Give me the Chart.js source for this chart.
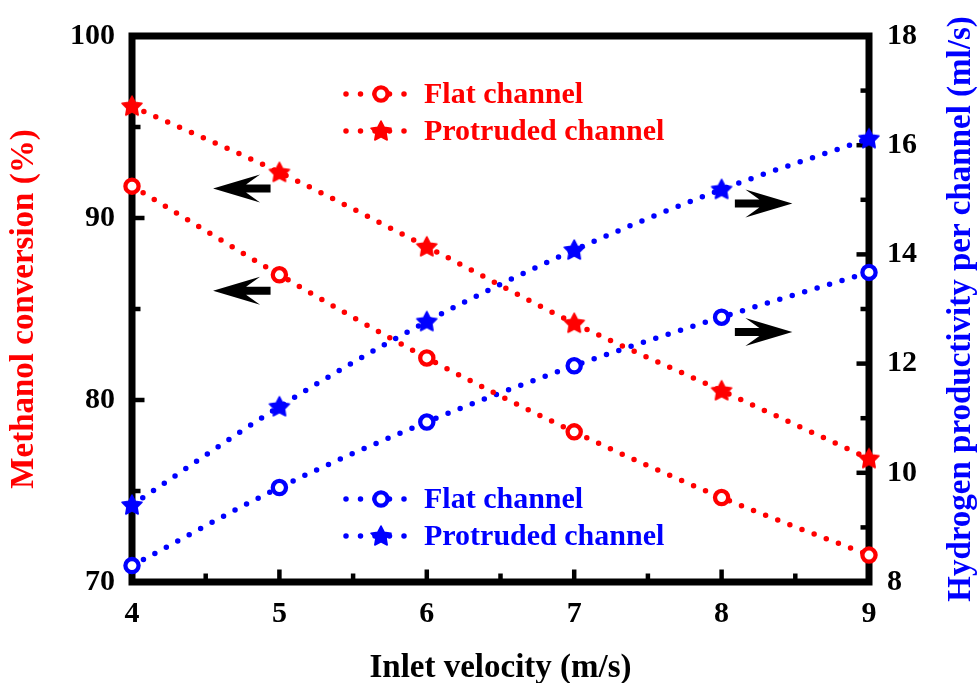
<!DOCTYPE html>
<html><head><meta charset="utf-8">
<script src="https://cdn.jsdelivr.net/npm/chart.js@4/dist/chart.umd.min.js"></script>
<style>html,body{margin:0;padding:0;background:#fff}#wrap{width:978px;height:683px;position:relative}</style>
</head><body><div id="wrap"><canvas id="c" width="978" height="683"></canvas></div>
<script>
// ---- data ----
const velocities = [4, 5, 6, 7, 8, 9];
const convFlat = [91.75, 86.88, 82.31, 78.25, 74.64, 71.48];
const convProtruded = [96.15, 92.51, 88.42, 84.22, 80.51, 76.78];
const h2Flat = [8.30, 9.73, 10.93, 11.96, 12.85, 13.67];
const h2Protruded = [9.41, 11.21, 12.77, 14.08, 15.19, 16.12];
const xTickValues = [4, 5, 6, 7, 8, 9];
const leftTickValues = [70, 80, 90, 100];
const rightTickValues = [8, 10, 12, 14, 16, 18];
const seriesNames = ['Flat channel', 'Protruded channel'];
const xTitle = 'Inlet velocity (m/s)';
const leftTitle = 'Methanol conversion (%)';
const rightTitle = 'Hydrogen productivity per channel (ml/s)';
// arrow annotations (data units, per axis)
const arrowAxis = ['y', 'y', 'y1', 'y1'];
const arrowFrom = [4.94, 4.94, 8.09, 8.09];
const arrowTo = [4.55, 4.55, 8.48, 8.48];
const arrowAt = [91.62, 86.00, 14.93, 12.58];

// ---- styling ----
const FONT = "'Liberation Serif','Times New Roman',serif";
const RED = '#ff0000', BLUE = '#0000ff';
const CIRCLE_R = 6.6, CIRCLE_W = 4.3;

function starCanvas(color) {
  const s = 26, c = document.createElement('canvas');
  c.width = s; c.height = s;
  const g = c.getContext('2d');
  g.fillStyle = color; g.strokeStyle = color; g.lineWidth = 1.6; g.lineJoin = 'round';
  g.beginPath();
  const R = 10.5, r = 5.3;
  for (let i = 0; i < 10; i++) {
    const a = -Math.PI / 2 + i * Math.PI / 5, rad = i % 2 ? r : R;
    g.lineTo(s / 2 + rad * Math.cos(a), s / 2 + 0.5 + rad * Math.sin(a));
  }
  g.closePath(); g.fill(); g.stroke();
  return c;
}
const starRed = starCanvas(RED), starBlue = starCanvas(BLUE);

function makeSet(label, vals, color, style, axis) {
  return {
    label, yAxisID: axis,
    data: velocities.map((v, i) => ({ x: v, y: vals[i] })),
    borderColor: color, backgroundColor: '#fff',
    borderWidth: 5.5, borderDash: [0, 13], borderCapStyle: 'round',
    cubicInterpolationMode: 'monotone',
    pointStyle: style, pointRadius: style === 'circle' ? CIRCLE_R : 10,
    pointBorderWidth: CIRCLE_W, pointBorderColor: color, pointBackgroundColor: '#fff',
    pointHoverRadius: style === 'circle' ? CIRCLE_R : 10,
    clip: false, fill: false
  };
}

const datasets = [
  makeSet(seriesNames[0], convFlat, RED, 'circle', 'y'),
  makeSet(seriesNames[1], convProtruded, RED, starRed, 'y'),
  makeSet(seriesNames[0], h2Flat, BLUE, 'circle', 'y1'),
  makeSet(seriesNames[1], h2Protruded, BLUE, starBlue, 'y1')
];

const tickFont = { family: FONT, size: 30, weight: 'bold' };
const titleFont = { family: FONT, size: 33, weight: 'bold', lineHeight: 0.9 };

const CA = { left: 132, right: 869, top: 32, bottom: 582 };

// frame + inward ticks
const framePlugin = {
  id: 'frame',
  beforeDatasetsDraw(chart) {
    const { ctx, chartArea: a, scales } = chart;
    ctx.save();
    ctx.strokeStyle = '#000';
    ctx.lineWidth = 4.5;
    ctx.lineCap = 'butt';
    const MAJ = 12.5, MIN = 8.5;
    const drawV = (scale, side) => {
      const vals = scale.ticks.map(t => t.value);
      const step = vals[1] - vals[0];
      const all = [];
      vals.forEach(v => all.push([v, MAJ]));
      for (let i = 0; i < vals.length - 1; i++) all.push([vals[i] + step / 2, MIN]);
      all.forEach(([v, len]) => {
        const p = scale.getPixelForValue(v);
        ctx.beginPath();
        if (side === 'bottom') { ctx.moveTo(p, a.bottom); ctx.lineTo(p, a.bottom - len); }
        else if (side === 'left') { ctx.moveTo(a.left, p); ctx.lineTo(a.left + len, p); }
        else { ctx.moveTo(a.right, p); ctx.lineTo(a.right - len, p); }
        ctx.stroke();
      });
    };
    drawV(scales.x, 'bottom');
    drawV(scales.y, 'left');
    drawV(scales.y1, 'right');
    ctx.lineWidth = 7;
    ctx.lineJoin = 'miter';
    ctx.strokeRect(a.left, a.top, a.right - a.left, a.bottom - a.top);
    ctx.restore();
  }
};

// arrows, legends, right-side title
const extrasPlugin = {
  id: 'extras',
  afterDraw(chart) {
    const { ctx, scales, chartArea: a } = chart;
    ctx.save();
    // arrows
    ctx.fillStyle = '#000';
    for (let i = 0; i < arrowAt.length; i++) {
      const ys = scales[arrowAxis[i]];
      const y = ys.getPixelForValue(arrowAt[i]);
      const xTip = scales.x.getPixelForValue(arrowTo[i]);
      const xTail = scales.x.getPixelForValue(arrowFrom[i]);
      const d = xTail > xTip ? 1 : -1;
      const L = Math.abs(xTail - xTip);
      const pts = [[0, 0], [47, -14], [33, -4], [L, -4], [L, 4], [33, 4], [47, 14]];
      ctx.beginPath();
      pts.forEach(([u, v], k) => {
        const px = xTip + d * u, py = y + v;
        k ? ctx.lineTo(px, py) : ctx.moveTo(px, py);
      });
      ctx.closePath();
      ctx.fill();
    }
    // legends
    const rows = [[0, 94], [1, 131], [2, 499], [3, 536]];
    rows.forEach(([di, ry]) => {
      const ds = chart.data.datasets[di];
      const c = ds.borderColor;
      ctx.strokeStyle = c;
      ctx.lineWidth = 5.5;
      ctx.lineCap = 'round';
      ctx.setLineDash([0, 14.5]);
      ctx.beginPath(); ctx.moveTo(346, ry); ctx.lineTo(410, ry); ctx.stroke();
      ctx.setLineDash([]);
      const mx = 381;
      if (ds.pointStyle === 'circle') {
        ctx.beginPath(); ctx.arc(mx, ry, CIRCLE_R, 0, Math.PI * 2);
        ctx.fillStyle = '#fff'; ctx.fill();
        ctx.lineWidth = CIRCLE_W; ctx.stroke();
      } else {
        const im = ds.pointStyle;
        ctx.drawImage(im, mx - im.width / 2, ry - im.height / 2);
      }
      ctx.fillStyle = c;
      ctx.font = 'bold 30px ' + FONT;
      ctx.textAlign = 'left';
      ctx.textBaseline = 'middle';
      ctx.fillText(ds.label, 424, ry + 1);
    });
    // right axis title (reads bottom-to-top)
    const t = scales.y1.options.title;
    ctx.translate(961, (a.top + a.bottom) / 2);
    ctx.rotate(-Math.PI / 2);
    ctx.fillStyle = t.color;
    ctx.font = 'bold 33px ' + FONT;
    ctx.textAlign = 'center';
    ctx.textBaseline = 'middle';
    ctx.fillText(t.text, 0, 0);
    ctx.restore();
  }
};

new Chart(document.getElementById('c'), {
  type: 'line',
  data: { datasets },
  options: {
    responsive: false, animation: false, devicePixelRatio: 1,
    layout: { padding: { top: CA.top, left: 0, right: 0, bottom: 0 } },
    plugins: { legend: { display: false }, tooltip: { enabled: false } },
    events: [],
    scales: {
      x: {
        type: 'linear', position: 'bottom', min: 4, max: 9,
        afterBuildTicks: s => { s.ticks = xTickValues.map(v => ({ value: v })); },
        ticks: { font: tickFont, color: '#000', padding: 14, maxRotation: 0, callback: v => String(v) },
        grid: { display: false, drawTicks: false },
        border: { display: false },
        title: { display: true, text: xTitle, color: '#000', font: titleFont, padding: { top: 0, bottom: 0 } },
        afterFit: s => { s.height = 683 - CA.bottom; }
      },
      y: {
        type: 'linear', position: 'left', min: 70, max: 100,
        afterBuildTicks: s => { s.ticks = leftTickValues.map(v => ({ value: v })); },
        ticks: { font: tickFont, color: '#000', padding: 17, callback: v => String(v) },
        grid: { display: false, drawTicks: false },
        border: { display: false },
        title: { display: true, text: leftTitle, color: RED, font: titleFont, padding: { top: 10, bottom: 0 } },
        afterFit: s => { s.width = CA.left; }
      },
      y1: {
        type: 'linear', position: 'right', min: 8, max: 18,
        afterBuildTicks: s => { s.ticks = rightTickValues.map(v => ({ value: v })); },
        ticks: { font: tickFont, color: '#000', padding: 18, callback: v => String(v) },
        grid: { display: false, drawTicks: false, drawOnChartArea: false },
        border: { display: false },
        title: { display: false, text: rightTitle, color: BLUE, font: titleFont },
        afterFit: s => { s.width = 978 - CA.right; }
      }
    }
  },
  plugins: [framePlugin, extrasPlugin]
});
</script>
</body></html>
